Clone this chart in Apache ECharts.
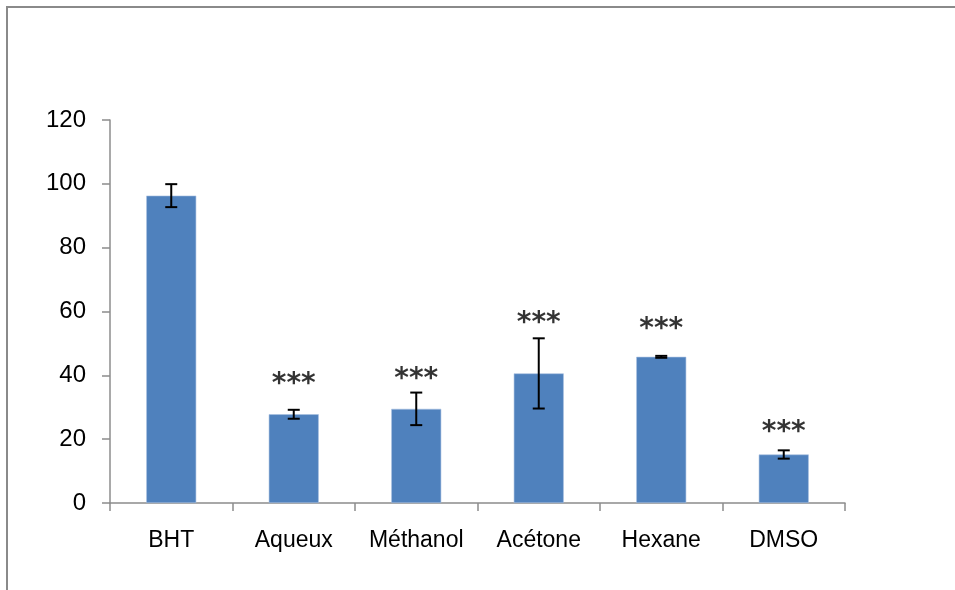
<!DOCTYPE html>
<html>
<head>
<meta charset="utf-8">
<script src="https://cdn.jsdelivr.net/npm/echarts@6/dist/echarts.min.js"></script>
<style>
  html, body { margin: 0; padding: 0; background: #fff; }
  #chart { width: 955px; height: 590px; }
</style>
</head>
<body>
<div id="chart"></div>
<script>
// Antioxidant activity by extract (mean ± SD)
const categories = ['BHT', 'Aqueux', 'Méthanol', 'Acétone', 'Hexane', 'DMSO'];
const means = [96.3, 27.8, 29.5, 40.6, 45.8, 15.2];
const errors = [3.6, 1.4, 5.1, 11.0, 0.3, 1.3];
// Significance marks and the height at which each one is written
const signif = ['', '***', '***', '***', '***', '***'];
const signifLevel = [null, 39.3, 40.8, 58.4, 56.4, 24.2];
const yTicks = { min: 0, max: 120, interval: 20 };

const axisGray = '#8c8c8c';
const font = '"Liberation Sans", sans-serif';

const errorData = means.map((m, i) => [i, m - errors[i], m + errors[i]]);
const starData = signifLevel.map((v, i) => (v === null ? null : [i, v, signif[i]]));

const chart = echarts.init(document.getElementById('chart'), null, { renderer: 'canvas' });
chart.setOption({
  animation: false,
  backgroundColor: '#ffffff',
  graphic: [{
    type: 'rect',
    shape: { x: 7, y: 7, width: 980, height: 620 },
    style: { fill: 'none', stroke: '#8a8a8a', lineWidth: 2 },
    silent: true
  }],
  grid: { left: 110, right: 110, top: 120, bottom: 87 },
  xAxis: {
    type: 'category',
    data: categories,
    axisLine: { lineStyle: { color: axisGray, width: 1.5 } },
    axisTick: { show: true, length: 8, lineStyle: { color: axisGray, width: 1.5 } },
    axisLabel: { color: '#000', fontFamily: font, fontSize: 23, margin: 26, interval: 0 }
  },
  yAxis: {
    type: 'value',
    min: yTicks.min, max: yTicks.max, interval: yTicks.interval,
    splitLine: { show: false },
    axisLine: { show: true, lineStyle: { color: axisGray, width: 1.5 } },
    axisTick: { show: true, length: 8, lineStyle: { color: axisGray, width: 1.5 } },
    axisLabel: { color: '#000', fontFamily: font, fontSize: 24, margin: 24 }
  },
  series: [
    {
      type: 'bar',
      data: means,
      barWidth: 50,
      itemStyle: { color: '#4f81bd', borderColor: '#a9c1e0', borderWidth: 0.6 },
      z: 2
    },
    {
      type: 'custom',
      data: errorData,
      z: 3,
      renderItem: function (params, api) {
        const x = api.coord([api.value(0), 0])[0];
        const lo = api.coord([api.value(0), api.value(1)])[1];
        const hi = api.coord([api.value(0), api.value(2)])[1];
        const half = 6;
        const style = { stroke: '#000', lineWidth: 2 };
        return {
          type: 'group',
          children: [
            { type: 'line', shape: { x1: x, y1: lo, x2: x, y2: hi }, style: style },
            { type: 'line', shape: { x1: x - half, y1: hi, x2: x + half, y2: hi }, style: style },
            { type: 'line', shape: { x1: x - half, y1: lo, x2: x + half, y2: lo }, style: style }
          ]
        };
      }
    },
    {
      type: 'scatter',
      data: starData,
      symbolSize: 0,
      z: 4,
      label: {
        show: true,
        position: 'inside',
        formatter: function (p) { return p.value[2]; },
        color: '#000',
        fontFamily: 'DejaVu Sans',
        fontWeight: 'bold',
        fontSize: 28,
        offset: [0, 7]
      }
    }
  ]
});
</script>
</body>
</html>
